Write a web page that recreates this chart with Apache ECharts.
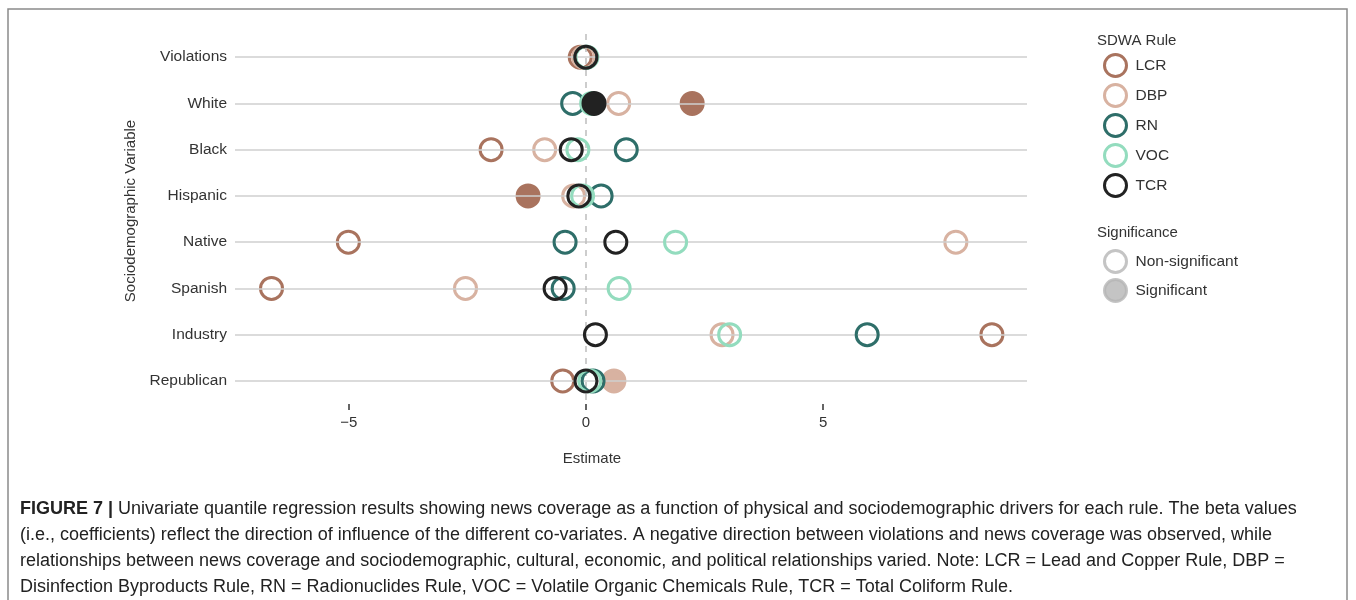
<!DOCTYPE html>
<html>
<head>
<meta charset="utf-8">
<script src="https://cdn.jsdelivr.net/npm/echarts@6/dist/echarts.min.js"></script>
<style>
html,body{margin:0;padding:0;background:#fff;}
#chart{width:1356px;height:600px;}
</style>
</head>
<body>
<div id="chart"></div>
<script>
// ---- data ----
const categories = ['Violations', 'White', 'Black', 'Hispanic', 'Native', 'Spanish', 'Industry', 'Republican'];
const rules = ['LCR', 'DBP', 'RN', 'VOC', 'TCR'];
const lcrValues = [-0.12, 2.24, -2.0, -1.22, -5.01, -6.63, 8.56, -0.49];
const lcrSignificant = [0, 1, 0, 1, 0, 0, 0, 0];
const dbpValues = [-0.05, 0.69, -0.87, -0.26, 7.8, -2.54, 2.87, 0.59];
const dbpSignificant = [0, 0, 0, 0, 0, 0, 0, 1];
const rnValues = [0.0, -0.28, 0.85, 0.32, -0.44, -0.48, 5.93, 0.15];
const rnSignificant = [0, 0, 0, 0, 0, 0, 0, 0];
const vocValues = [0.02, 0.12, -0.17, -0.07, 1.89, 0.7, 3.03, 0.08];
const vocSignificant = [0, 0, 0, 0, 0, 0, 0, 0];
const tcrValues = [0.0, 0.17, -0.31, -0.15, 0.63, -0.65, 0.2, 0.0];
const tcrSignificant = [0, 1, 0, 0, 0, 0, 0, 0];
const xTickValues = [-5, 0, 5];
const significanceLabels = ['Non-significant', 'Significant'];

const ruleValues = [lcrValues, dbpValues, rnValues, vocValues, tcrValues];
const ruleSignificant = [lcrSignificant, dbpSignificant, rnSignificant, vocSignificant, tcrSignificant];
const ruleColors = ['#a9735e', '#d8b2a1', '#2e6e69', '#93dcbe', '#222222'];
const greyLegend = '#b5b5b5';
const FONT = "'Liberation Sans', Arial, sans-serif";
const SYM = 22, BW = 3;

const chart = echarts.init(document.getElementById('chart'), null, {renderer: 'canvas'});

const series = [];
// guides: horizontal lines per category and dashed zero line
series.push({
  type: 'scatter', name: '_guides', data: [], z: 1, silent: true,
  markLine: {
    silent: true, symbol: ['none', 'none'], animation: false,
    label: {show: false},
    data: categories.map(c => ({yAxis: c, lineStyle: {color: '#cfcfcf', width: 1.5, type: 'solid'}}))
      .concat([{xAxis: 0, lineStyle: {color: '#bdbdbd', width: 1.5, type: [6, 6]}}])
  }
});
rules.forEach((r, k) => {
  const col = ruleColors[k];
  series.push({
    type: 'scatter', name: r, z: 3 + k,
    symbol: 'circle', symbolSize: SYM,
    itemStyle: {color: 'rgba(255,255,255,0)', borderColor: col, borderWidth: BW, opacity: 1},
    emphasis: {disabled: true},
    data: categories.map((c, i) => {
      const d = {value: [ruleValues[k][i], c]};
      if (ruleSignificant[k][i]) d.itemStyle = {color: col, borderColor: col};
      return d;
    })
  });
});
series.push({type: 'scatter', name: 'Non-significant', data: [],
  itemStyle: {color: 'rgba(255,255,255,0)', borderColor: greyLegend, borderWidth: BW}});
series.push({type: 'scatter', name: 'Significant', data: [],
  itemStyle: {color: greyLegend, borderColor: greyLegend, borderWidth: BW}});

const option = {
  animation: false,
  backgroundColor: '#ffffff',
  textStyle: {fontFamily: FONT},
  grid: {left: 235, right: 329, top: 34, height: 370, containLabel: false},
  xAxis: {
    type: 'value', min: -7.4, max: 9.3,
    name: 'Estimate', nameLocation: 'middle', nameGap: 47,
    nameTextStyle: {color: '#333', fontSize: 15, fontFamily: FONT, padding: [0, 78, 0, 0]},
    axisLine: {show: false},
    splitLine: {show: false},
    axisTick: {show: true, customValues: xTickValues, length: 6, lineStyle: {color: '#333', width: 1.5}},
    axisLabel: {customValues: xTickValues, color: '#333', fontSize: 15, margin: 11, fontFamily: FONT,
      formatter: v => (v < 0 ? '\u2212' + Math.abs(v) : String(v))}
  },
  yAxis: {
    type: 'category', data: categories, inverse: true,
    name: 'Sociodemographic Variable', nameLocation: 'middle', nameGap: 97,
    nameTextStyle: {color: '#333', fontSize: 15, fontFamily: FONT, padding: [0, 0, 0, 16]},
    axisLine: {show: false}, axisTick: {show: false}, splitLine: {show: false},
    axisLabel: {color: '#333', fontSize: 15.5, margin: 8, fontFamily: FONT}
  },
  title: [
    {text: 'SDWA Rule', left: 1092, top: 28, textStyle: {color: '#333', fontSize: 15, fontWeight: 'normal', fontFamily: FONT}},
    {text: 'Significance', left: 1092, top: 220, textStyle: {color: '#333', fontSize: 15, fontWeight: 'normal', fontFamily: FONT}}
  ],
  legend: [
    {
      orient: 'vertical', left: 1098, top: 48, itemWidth: 22, itemHeight: 22, itemGap: 5,
      selectedMode: false, icon: 'circle',
      textStyle: {color: '#333', fontSize: 15.5, fontFamily: FONT, padding: [0, 0, 0, 4]},
      data: rules.map((r, k) => ({name: r, icon: 'circle',
        itemStyle: {color: 'rgba(255,255,255,0)', borderColor: ruleColors[k], borderWidth: BW}}))
    },
    {
      orient: 'vertical', left: 1098, top: 244, itemWidth: 22, itemHeight: 22, itemGap: 4,
      selectedMode: false, icon: 'circle',
      textStyle: {color: '#333', fontSize: 15.5, fontFamily: FONT, padding: [0, 0, 0, 4]},
      data: [
        {name: significanceLabels[0], icon: 'circle', itemStyle: {color: 'rgba(255,255,255,0)', borderColor: greyLegend, borderWidth: BW}},
        {name: significanceLabels[1], icon: 'circle', itemStyle: {color: greyLegend, borderColor: greyLegend, borderWidth: BW}}
      ]
    }
  ],
  graphic: [
    {type: 'rect', silent: true, shape: {x: 8, y: 9, width: 1339, height: 640},
      style: {fill: 'none', stroke: '#8a8a8a', lineWidth: 1.5}},
    {type: 'text', left: 20, top: 496, silent: true,
      style: {
        text: '{b|FIGURE 7 |} Univariate quantile regression results showing news coverage as a function of physical and sociodemographic drivers for each rule. The beta values\n' +
              '(i.e., coefficients) reflect the direction of influence of the different co-variates. A negative direction between violations and news coverage was observed, while\n' +
              'relationships between news coverage and sociodemographic, cultural, economic, and political relationships varied. Note: LCR = Lead and Copper Rule, DBP =\n' +
              'Disinfection Byproducts Rule, RN = Radionuclides Rule, VOC = Volatile Organic Chemicals Rule, TCR = Total Coliform Rule.',
        fontFamily: FONT,
        fontSize: 18, lineHeight: 26, fill: '#222',
        rich: {b: {fontWeight: 'bold', fontFamily: FONT, fontSize: 18, lineHeight: 26, fill: '#222'}}
      }}
  ],
  series: series
};
chart.setOption(option);
</script>
</body>
</html>
